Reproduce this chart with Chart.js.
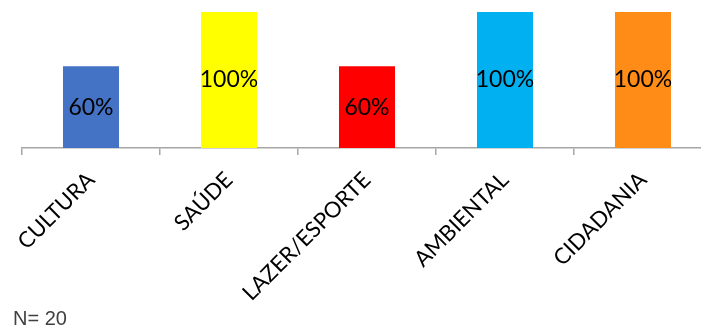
<!DOCTYPE html>
<html>
<head>
<meta charset="utf-8">
<script src="https://cdn.jsdelivr.net/npm/chart.js@4"></script>
<style>
  html, body { margin: 0; padding: 0; overflow: hidden; background: #fff; }
  #wrap { width: 712px; height: 329px; }
</style>
</head>
<body>
<div id="wrap"><canvas id="chartAreas"></canvas></div>
<script>
const categories = ['CULTURA', 'SAÚDE', 'LAZER/ESPORTE', 'AMBIENTAL', 'CIDADANIA'];
const values = [60, 100, 60, 100, 100];
const barColors = ['#4472C4', '#FFFF00', '#FF0000', '#00B0F0', '#FF8C16'];
const sampleNote = 'N= 20';

// rótulos de porcentagem no meio de cada barra + nota N
const barLabels = {
    id: 'barLabels',
    afterDatasetsDraw(chart) {
        const c = chart.ctx;
        const meta = chart.getDatasetMeta(0);
        c.save();
        c.font = '23px Lato';
        c.fillStyle = '#000';
        c.textAlign = 'center';
        c.textBaseline = 'middle';
        meta.data.forEach((bar, i) => {
            c.fillText(values[i] + '%', bar.x, (bar.y + bar.base) / 2);
        });
        // a nota fica mais à esquerda do que o título do Chart.js permite
        c.font = '20px "Liberation Sans"';
        c.fillStyle = '#404040';
        c.textAlign = 'left';
        c.textBaseline = 'alphabetic';
        c.fillText(sampleNote, 13, chart.height - 4);
        c.restore();
    }
};

const ctx = document.getElementById('chartAreas').getContext('2d');
const chart = new Chart(ctx, {
    type: 'bar',
    data: {
        labels: categories,
        datasets: [{
            data: values,
            backgroundColor: barColors,
            categoryPercentage: 1,
            barPercentage: 0.406
        }]
    },
    options: {
        responsive: true,
        maintainAspectRatio: false,
        animation: false,
        layout: { padding: { top: 12, left: 22, right: 0, bottom: 0 } },
        plugins: {
            legend: { display: false },
            tooltip: { enabled: false },
            title: {
                // só reserva o espaço da nota
                display: true,
                text: sampleNote,
                position: 'bottom',
                align: 'start',
                color: 'rgba(0,0,0,0)',
                font: { family: 'Liberation Sans', size: 18, weight: 'normal' },
                padding: { top: 0, bottom: 1 }
            }
        },
        scales: {
            x: {
                grid: {
                    display: true,
                    drawOnChartArea: false,
                    drawTicks: true,
                    tickLength: 7,
                    color: '#A6A6A6',
                    lineWidth: 1.5
                },
                border: { color: '#A6A6A6', width: 1.5 },
                ticks: {
                    color: '#000',
                    font: { family: 'Lato', size: 22 },
                    minRotation: 45,
                    maxRotation: 45,
                    padding: 12
                }
            },
            y: {
                display: false,
                min: 0,
                max: 100
            }
        }
    },
    plugins: [barLabels]
});
</script>
</body>
</html>
